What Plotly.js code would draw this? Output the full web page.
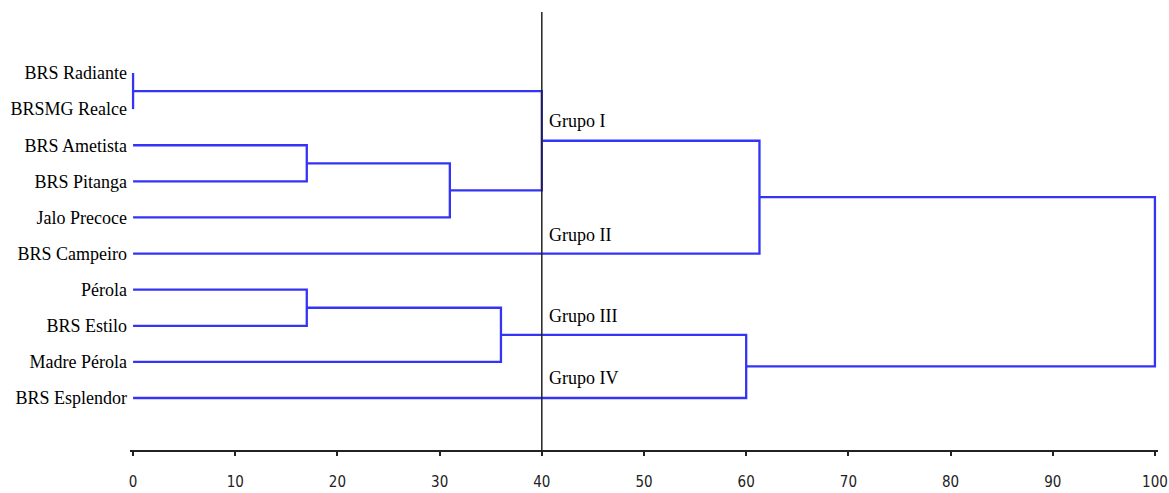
<!DOCTYPE html>
<html>
<head>
<meta charset="utf-8">
<script src="https://cdn.plot.ly/plotly-3.0.1.min.js"></script>
<style>html,body{margin:0;padding:0;background:#fff;}#chart{width:1169px;height:493px;}</style>
</head>
<body>
<div id="chart"></div>
<script>
// Leaves (top to bottom)
const leafNames = ["BRS Radiante","BRSMG Realce","BRS Ametista","BRS Pitanga","Jalo Precoce",
  "BRS Campeiro","Pérola","BRS Estilo","Madre Pérola","BRS Esplendor"];
// Linkage: node ids 0-9 are leaves, merges create ids 10,11,...
const mergeLeft   = [0, 2, 11, 10, 13, 6, 15, 16, 14];
const mergeRight  = [1, 3, 4, 12, 5, 7, 8, 9, 17];
const mergeHeight = [0, 17, 31, 40, 61.3, 17, 36, 60, 100];
// Group labels
const groupNames = ["Grupo I","Grupo II","Grupo III","Grupo IV"];
const groupCut = 40;
const xTicks = [0,10,20,30,40,50,60,70,80,90,100];

const nodeY = leafNames.map((_, i) => i);
const nodeH = leafNames.map(() => 0);
const xs = [], ys = [];
for (let k = 0; k < mergeLeft.length; k++) {
  const a = mergeLeft[k], b = mergeRight[k], h = mergeHeight[k];
  xs.push(nodeH[a], h, h, nodeH[b], null);
  ys.push(nodeY[a], nodeY[a], nodeY[b], nodeY[b], null);
  nodeY.push((nodeY[a] + nodeY[b]) / 2);
  nodeH.push(h);
}

const blue = "#3434f6";
const trace = {x: xs, y: ys, mode: "lines", type: "scatter",
  line: {color: blue, width: 2.3}, hoverinfo: "skip", showlegend: false};

// group label positions (in leaf-index units)
const groupY = [1.33, 4.49, 6.73, 8.45];
const annotations = groupNames.map((g, i) => ({
  x: groupCut, y: groupY[i], xref: "x", yref: "y", text: g, showarrow: false,
  xanchor: "left", yanchor: "middle", xshift: 5,
  font: {family: "Liberation Serif, Times New Roman, serif", size: 18, color: "#000"}
}));

const layout = {
  width: 1169, height: 493,
  margin: {l: 130, r: 11, t: 12, b: 43},
  paper_bgcolor: "#fff", plot_bgcolor: "#fff",
  showlegend: false,
  xaxis: {range: [-0.3, 100.3], tickvals: xTicks, ticktext: xTicks.map(String),
    showgrid: false, zeroline: false, showline: true, linecolor: "#222", linewidth: 2,
    ticks: "outside", ticklen: 4, tickwidth: 2, tickcolor: "#222",
    ticklabelstandoff: 13,
    tickfont: {family: "Liberation Sans Narrow, DejaVu Sans Condensed, sans-serif", size: 15, color: "#222"}},
  yaxis: {range: [10.44, -1.69], tickvals: leafNames.map((_, i) => i), ticktext: leafNames,
    showgrid: false, zeroline: false, showline: false, ticks: "",
    ticklabelstandoff: 2,
    tickfont: {family: "Liberation Serif, Times New Roman, serif", size: 18, color: "#000"}},
  shapes: [{type: "line", xref: "x", yref: "paper", x0: groupCut, x1: groupCut, y0: 0, y1: 1,
    line: {color: "#222", width: 1.5}, layer: "above"}],
  annotations: annotations
};

Plotly.newPlot("chart", [trace], layout, {displayModeBar: false, staticPlot: true});
</script>
</body>
</html>
